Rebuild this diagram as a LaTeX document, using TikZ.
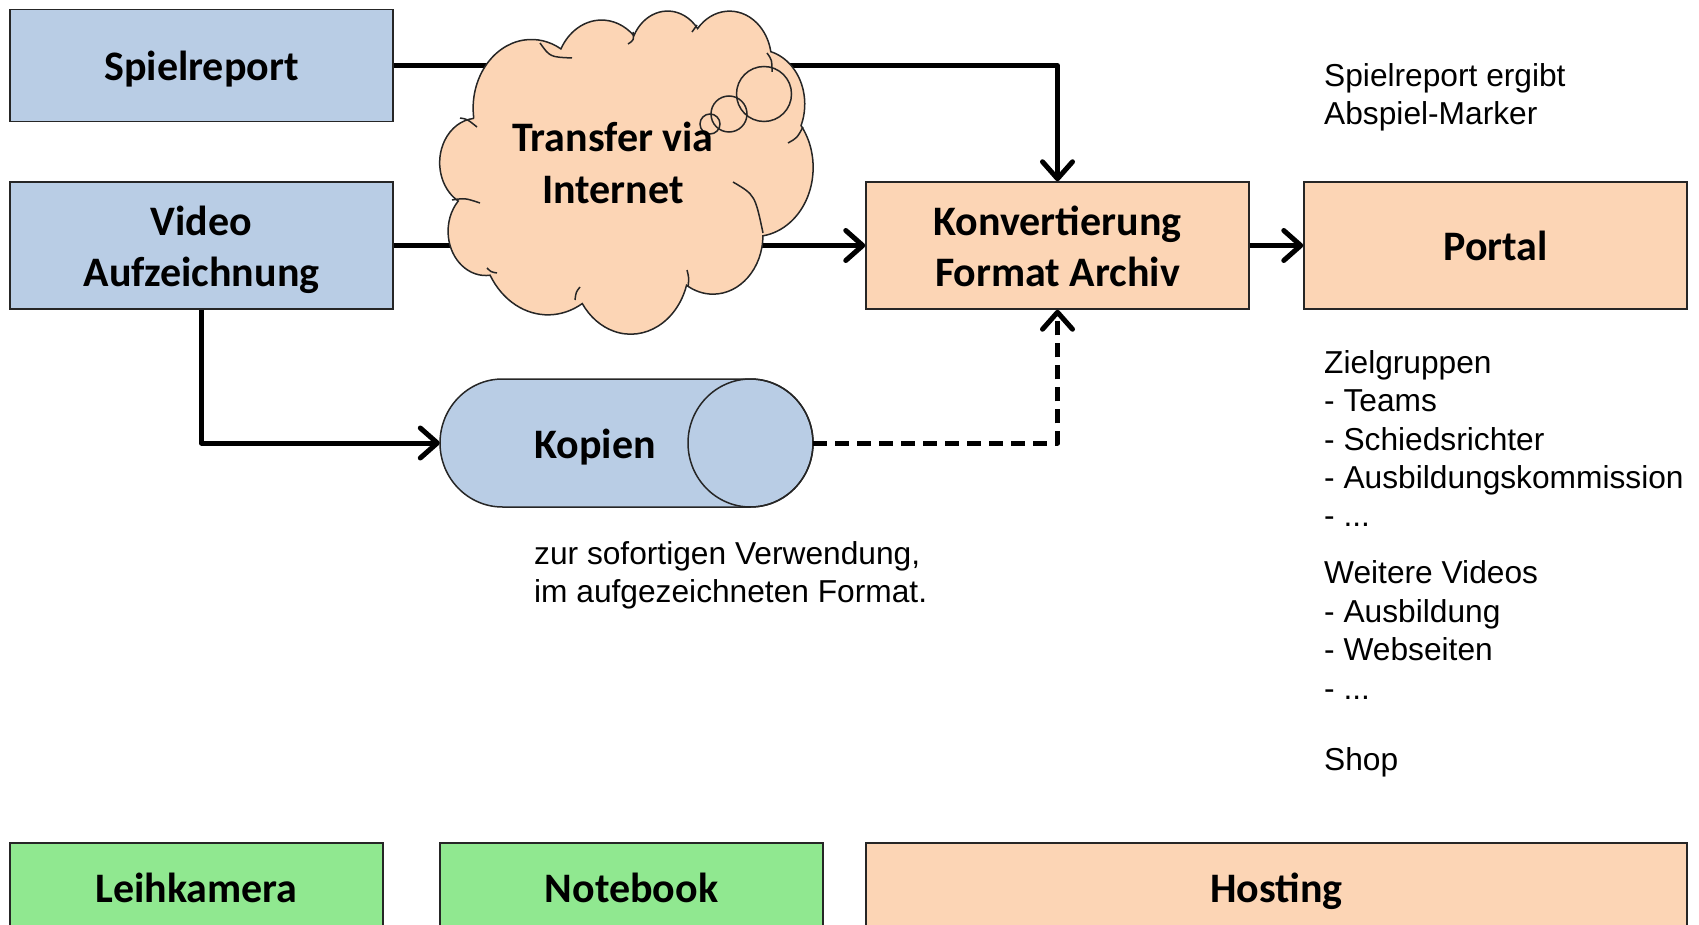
\documentclass[tikz,border=0pt]{standalone}
\usepackage{fontspec}
\setmainfont{Liberation Sans}
\newfontfamily\boxfont{Carlito}
\usetikzlibrary{arrows.meta}

\definecolor{boxblue}{HTML}{B9CDE5}
\definecolor{boxpeach}{HTML}{FCD5B5}
\definecolor{boxgreen}{HTML}{90E890}
\definecolor{edge}{HTML}{262626}

% fixed line box for the bold labels, so every line sits on the same grid
\newcommand\lbox{\rule[-9.75pt]{0pt}{50.5pt}}

\tikzset{
  box/.style={draw=edge, line width=1.5pt, inner sep=0pt, align=center,
    minimum width=383pt, minimum height=127pt,
    font=\boxfont\bfseries\fontsize{42}{50.5}\selectfont},
  boldtext/.style={inner sep=0pt, align=center,
    font=\boxfont\bfseries\fontsize{42}{50.5}\selectfont},
  note/.style={anchor=base west, inner sep=0pt, font=\fontsize{31.7}{38}\selectfont},
  flow/.style={line width=5pt, line join=round,
    -{Straight Barb[length=17pt, width=30pt, round]}},
  outline/.style={draw=edge, line width=1.5pt},
}

\begin{document}
\begin{tikzpicture}[x=1pt, y=-1pt]
\clip (0,0) rectangle (1699,925);

% source and target boxes
\node[box, fill=boxblue, minimum height=112pt] (sp) at (201.5,65.5) {\lbox Spielreport};
\node[box, fill=boxblue] (vid) at (201.5,245.5) {\lbox Video\\\lbox Aufzeichnung};
\node[box, fill=boxpeach] (konv) at (1057.5,245.5) {\lbox Konvertierung\\\lbox Format Archiv};
\node[box, fill=boxpeach] (portal) at (1495.5,245.5) {\lbox Portal};

% copies: horizontal drum
\node[minimum width=373pt, minimum height=128pt, inner sep=0pt] (kop) at (626.5,443) {};
\path[fill=boxblue, outline] (502.5,379) -- (750.5,379)
  arc[x radius=62.5, y radius=64, start angle=-90, delta angle=180]
  -- (502.5,507)
  arc[x radius=62.5, y radius=64, start angle=90, delta angle=180] -- cycle;
\draw[outline] (750.5,443) ellipse[x radius=62.5, y radius=64];
\node[boldtext] (koptext) at (595,443) {\lbox Kopien};

% bottom row
\node[box, fill=boxgreen, minimum width=373pt, minimum height=88pt] (leih) at (196.5,887) {\lbox Leihkamera};
\node[box, fill=boxgreen, minimum height=88pt] (nb) at (631.5,887) {\lbox Notebook};
\node[box, fill=boxpeach, minimum width=821pt, minimum height=88pt] (host) at (1276.5,887) {\lbox Hosting};

% connectors
\draw[flow] (sp.east) -- (sp.east -| konv.north) -- (konv.north);
\draw[flow] (vid.east) -- (konv.west);
\draw[flow] (vid.south) |- (kop.west);
\draw[flow, dash pattern=on 14pt off 8pt] (kop.east) -| (konv.south);
\draw[flow] (konv.east) -- (portal.west);

% transfer cloud drawn over the lines that pass behind it
\begin{scope}[shift={(440,10)}, x=0.86343pt, y=-0.74769pt]
\path[fill=boxpeach, outline] (39.00,143.70)
  arc[x radius=67.53, y radius=91.90, start angle=-187.745, delta angle=128.107]
  arc[x radius=53.33, y radius=72.67, start angle=-152.019, delta angle=106.565]
  arc[x radius=43.65, y radius=59.45, start angle=-153.489, delta angle=116.138]
  arc[x radius=48.57, y radius=65.95, start angle=-139.697, delta angle=129.485]
  arc[x radius=53.33, y radius=72.73, start angle=-74.767, delta angle=97.977]
  arc[x radius=67.75, y radius=92.20, start angle=-37.522, delta angle=119.385]
  arc[x radius=57.85, y radius=78.67, start angle=0.460, delta angle=121.519]
  arc[x radius=67.52, y radius=92.15, start angle=16.843, delta angle=129.381]
  arc[x radius=77.20, y radius=105.43, start angle=58.988, delta angle=91.187]
  arc[x radius=43.60, y radius=59.18, start angle=-276.693, delta angle=139.800]
  arc[x radius=43.45, y radius=59.45, start angle=-239.654, delta angle=143.767]
  -- cycle;
\end{scope}
% inner folds of the cloud
\draw[outline] (540,43) .. controls (550,57) .. (572,58);
\draw[outline] (633,32) .. controls (634,40) .. (628,44);
\draw[outline] (692,32) .. controls (694,28) .. (697,25);
\draw[outline] (767,53) .. controls (772,60) .. (772,72);
\draw[outline] (788,143) .. controls (797,138) .. (803,127);
\draw[outline] (733,182) .. controls (755,195) .. (763,233);
\draw[outline] (687,270) .. controls (689,278) .. (688,287);
\draw[outline] (580,287) .. controls (576,292) .. (575,300);
\draw[outline] (497,273) .. controls (491,272) .. (487,268);
\draw[outline] (452,200) .. controls (465,198) .. (480,203);
\draw[outline] (460,118) .. controls (467,119) .. (477,127);
% thought bubbles
\draw[outline] (710,124) circle[radius=10];
\draw[outline] (729,114) circle[radius=18];
\draw[outline] (764,94) circle[radius=27.5];
\node[boldtext, font=\boxfont\bfseries\fontsize{42}{52}\selectfont] (cloudtext) at (613,162) {\lbox Transfer via\\\lbox Internet};

% notes
\node[note] (m1) at (1324,87) {Spielreport ergibt};
\node[note] (m2) at (1324,125) {Abspiel-Marker};

\node[note] (z0) at (1324,373) {Zielgruppen};
\node[note] (z1) at (1324,411) {- Teams};
\node[note] (z2) at (1324,450) {- Schiedsrichter};
\node[note] (z3) at (1324,488) {- Ausbildungskommission};
\node[note] (z4) at (1324,526) {- ...};

\node[note] (w0) at (1324,583) {Weitere Videos};
\node[note] (w1) at (1324,622) {- Ausbildung};
\node[note] (w2) at (1324,660) {- Webseiten};
\node[note] (w3) at (1324,699) {- ...};

\node[note] (shop) at (1324,770) {Shop};

\node[note] (k1) at (534,564) {zur sofortigen Verwendung,};
\node[note] (k2) at (534,602) {im aufgezeichneten Format.};
\end{tikzpicture}
\end{document}
